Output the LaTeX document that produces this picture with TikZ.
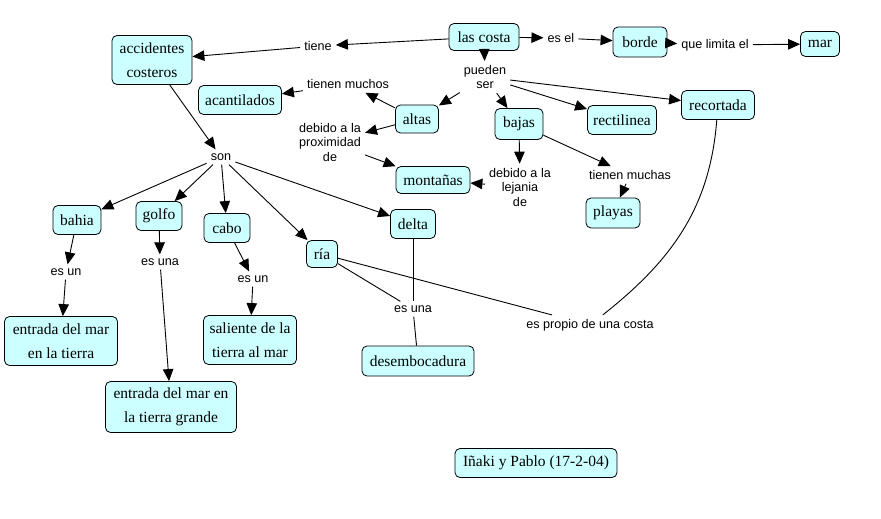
\documentclass[tikz,border=0pt]{standalone}
\usepackage{fontspec}
\setmainfont{Liberation Serif}
\newfontfamily\labfont{Liberation Sans}
\usetikzlibrary{arrows.meta}
\definecolor{cmap}{RGB}{204,255,255}
\begin{document}
\begin{tikzpicture}[x=1pt,y=-1pt,
  concept/.style={draw=black, line width=0.8pt, rounded corners=5pt, fill=cmap,
    font=\fontsize{15.5}{23.5}\selectfont, align=center, inner sep=2pt},
  lab/.style={font=\labfont\fontsize{12.6}{14.5}\selectfont, align=center, inner sep=4pt},
  conn/.style={line width=0.9pt, -{Triangle[length=12pt,width=10.5pt]}},
  plain/.style={line width=0.9pt}]
\useasboundingbox[fill=white] (0,0) rectangle (881,519);
% concepts
\node[concept, minimum width=70pt, minimum height=27pt] (cost) at (484,37) {las costa};
\node[concept, minimum width=54pt, minimum height=30pt] (bord) at (640,42) {borde};
\node[concept, minimum width=39pt, minimum height=25pt] (mar) at (820,44) {mar};
\node[concept, minimum width=80pt, minimum height=49pt] (acc) at (152,60) {accidentes\\costeros};
\node[concept, minimum width=83pt, minimum height=29pt] (acan) at (240,100) {acantilados};
\node[concept, minimum width=43pt, minimum height=28pt] (alt) at (417,119) {altas};
\node[concept, minimum width=48pt, minimum height=31pt] (baj) at (519,124) {bajas};
\node[concept, minimum width=69pt, minimum height=29pt] (rect) at (622,120) {rectilinea};
\node[concept, minimum width=73pt, minimum height=29pt] (reco) at (718,105) {recortada};
\node[concept, minimum width=74pt, minimum height=27pt] (mont) at (433,180) {montañas};
\node[concept, minimum width=54pt, minimum height=30pt] (play) at (613,213) {playas};
\node[concept, minimum width=48pt, minimum height=29pt] (bah) at (77,220) {bahia};
\node[concept, minimum width=46pt, minimum height=29pt] (gol) at (159,216) {golfo};
\node[concept, minimum width=46pt, minimum height=29pt] (cab) at (227,228) {cabo};
\node[concept, minimum width=31pt, minimum height=27pt] (ria) at (322,254) {ría};
\node[concept, minimum width=45pt, minimum height=29pt] (del) at (413,224) {delta};
\node[concept, minimum width=113pt, minimum height=49pt] (ent1) at (61,341) {entrada del mar\\en la tierra};
\node[concept, minimum width=93pt, minimum height=49pt] (sal) at (250,340) {saliente de la\\tierra al mar};
\node[concept, minimum width=131pt, minimum height=51pt] (ent2) at (171,407) {entrada del mar en\\la tierra grande};
\node[concept, minimum width=112pt, minimum height=30pt] (des) at (418,361) {desembocadura};
\node[concept, minimum width=162pt, minimum height=29pt] (ip) at (536,463) {Iñaki y Pablo (17-2-04)};
% link labels
\node[lab] (ltiene) at (318,46) {tiene};
\node[lab] (lesel) at (561,38) {es el};
\node[lab] (lque) at (715,45) {que limita el};
\node[lab] (lpue) at (485,77) {pueden\\ser};
\node[lab] (ltm) at (348,84) {tienen muchos};
\node[lab] (ldp) at (330,142) {debido a la\\proximidad\\de};
\node[lab] (lson) at (221,157) {son};
\node[lab] (ldl) at (520,187) {debido a la\\lejania\\de};
\node[lab] (ltmas) at (630,175) {tienen muchas};
\node[lab] (lesun1) at (66,272) {es un};
\node[lab] (lesuna1) at (160,262) {es una};
\node[lab] (lesun2) at (253,279) {es un};
\node[lab] (lesuna2) at (413,309) {es una};
\node[lab] (lprop) at (590,325) {es propio de una costa};
% connectors
\draw[conn] (cost) -- (ltiene);
\draw[conn] (ltiene) -- (acc);
\draw[conn] (cost) -- (lesel);
\draw[conn] (lesel) -- (bord);
\draw[conn] (bord) -- (lque);
\draw[conn] (lque) -- (mar);
\draw[conn] (cost) -- (lpue);
\draw[conn] (lpue) -- (alt);
\draw[conn] (lpue) -- (baj);
\draw[conn] (lpue) -- (rect);
\draw[conn] (lpue) -- (reco);
\draw[conn] (alt) -- (ltm);
\draw[conn] (ltm) -- (acan);
\draw[conn] (alt) -- (ldp);
\draw[conn] (ldp) -- (mont);
\draw[conn] (baj) -- (ldl);
\draw[conn] (ldl) -- (mont);
\draw[conn] (baj) -- (ltmas);
\draw[conn] (ltmas) -- (play);
\draw[conn] (acc) -- (lson);
\draw[conn] (lson) -- (bah);
\draw[conn] (lson) -- (gol);
\draw[conn] (lson) -- (cab);
\draw[conn] (lson) -- (ria);
\draw[conn] (lson) -- (del);
\draw[conn] (bah) -- (lesun1);
\draw[conn] (lesun1) -- (ent1);
\draw[conn] (gol) -- (lesuna1);
\draw[conn] (lesuna1) -- (ent2);
\draw[conn] (cab) -- (lesun2);
\draw[conn] (lesun2) -- (sal);
\draw[plain] (ria) -- (lesuna2);
\draw[plain] (del) -- (lesuna2);
\draw[plain] (lesuna2) -- (des);
\draw[plain] (ria) -- (lprop);
\draw[plain] (reco) .. controls (710,205) and (675,258) .. (lprop);
\end{tikzpicture}
\end{document}
